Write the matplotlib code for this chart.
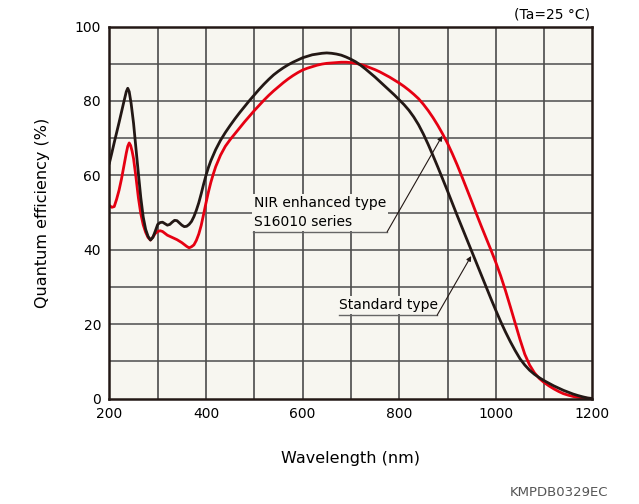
import matplotlib
matplotlib.use("Agg")
import matplotlib.pyplot as plt

# Standard type (black curve)
std_nm = [200, 205, 210, 215, 220, 225, 230, 235, 238, 241, 245, 250, 255,
          260, 265, 270, 275, 280, 285, 290, 295, 300, 305, 310, 315, 320,
          325, 330, 335, 340, 345, 350, 355, 360, 365, 370, 375, 380, 385,
          390, 395, 400, 405, 410, 420, 430, 440, 450, 460, 470, 480, 490,
          500, 510, 520, 530, 540, 550, 560, 570, 580, 590, 600, 610, 620,
          630, 640, 650, 660, 670, 680, 690, 700, 710, 720, 730, 740, 750,
          760, 770, 780, 790, 800, 810, 820, 830, 840, 850, 860, 870, 880,
          890, 900, 910, 920, 930, 940, 950, 960, 970, 980, 990, 1000, 1010,
          1020, 1030, 1040, 1050, 1060, 1070, 1080, 1090, 1100, 1110, 1120,
          1130, 1140, 1150, 1160, 1170, 1180, 1190, 1200]
std_qe = [63.3, 66.0, 68.8, 71.5, 74.2, 77.0, 79.8, 82.5, 83.4, 82.5, 79.3,
          74.0, 67.2, 60.5, 54.0, 48.8, 45.5, 43.6, 42.6, 43.3, 45.0, 46.8,
          47.3, 47.4, 47.0, 46.6, 46.8, 47.4, 47.9, 47.8, 47.2, 46.6, 46.2,
          46.3, 46.8, 47.6, 48.9, 50.6, 52.6, 55.0, 57.6, 60.0, 62.1, 63.9,
          66.9, 69.4, 71.5, 73.4, 75.2, 76.9, 78.5, 80.1, 81.6, 83.1, 84.5,
          85.8, 87.0, 88.0, 88.9, 89.7, 90.4, 91.0, 91.6, 92.0, 92.4, 92.6,
          92.8, 92.9, 92.8, 92.6, 92.3, 91.8, 91.2, 90.5, 89.6, 88.6, 87.5,
          86.4, 85.2, 84.0, 82.8, 81.6, 80.3, 79.0, 77.5, 75.7, 73.6, 71.1,
          68.3, 65.3, 62.2, 59.0, 55.8, 52.5, 49.2, 46.0, 42.8, 39.6, 36.4,
          33.2, 30.0, 26.8, 23.7, 20.7, 17.9, 15.3, 12.9, 10.7, 9.0, 7.6,
          6.5, 5.6, 4.8, 4.1, 3.4, 2.8, 2.2, 1.7, 1.2, 0.8, 0.45, 0.15, 0.0]

# NIR enhanced type S16010 series (red curve)
nir_nm = [200, 205, 210, 215, 220, 225, 230, 235, 238, 241, 244, 247, 250,
          255, 260, 265, 270, 275, 280, 285, 290, 295, 300, 305, 310, 315,
          320, 325, 330, 335, 340, 345, 350, 355, 360, 365, 370, 375, 380,
          385, 390, 395, 400, 405, 410, 415, 420, 430, 440, 450, 460, 470,
          480, 490, 500, 510, 520, 530, 540, 550, 560, 570, 580, 590, 600,
          610, 620, 630, 640, 650, 660, 670, 680, 690, 700, 710, 720, 730,
          740, 750, 760, 770, 780, 790, 800, 810, 820, 830, 840, 850, 860,
          870, 880, 890, 900, 910, 920, 930, 940, 950, 960, 970, 980, 990,
          1000, 1010, 1020, 1030, 1040, 1050, 1060, 1070, 1080, 1090, 1100,
          1110, 1120, 1130, 1140, 1150, 1160, 1170, 1180, 1190, 1200]
nir_qe = [51.9, 51.4, 51.6, 53.6, 56.0, 59.0, 62.5, 66.0, 67.8, 68.7, 68.0,
          66.5, 64.5, 59.5, 54.0, 49.7, 46.7, 44.7, 43.3, 42.6, 43.4, 44.4,
          44.9, 45.1, 44.9, 44.4, 43.9, 43.6, 43.3, 43.0, 42.7, 42.3, 41.9,
          41.4, 40.9, 40.5, 40.8, 41.3, 42.5, 44.2, 46.5, 49.5, 52.6, 55.5,
          58.1, 60.3, 62.3, 65.4, 67.8, 69.6, 71.2, 72.8, 74.4, 75.9, 77.4,
          78.8, 80.2, 81.5, 82.7, 83.8, 84.9, 85.9, 86.8, 87.6, 88.3, 88.8,
          89.2, 89.6, 89.9, 90.1, 90.2, 90.3, 90.4, 90.4, 90.3, 90.1, 89.8,
          89.4, 88.9, 88.4, 87.8, 87.1, 86.4, 85.6, 84.8, 83.9, 82.9, 81.8,
          80.6, 79.1, 77.4, 75.5, 73.4, 71.1, 68.6, 65.8, 62.8, 59.6, 56.3,
          53.0, 49.6, 46.3, 43.1, 39.9, 36.6, 33.0, 29.0, 24.7, 20.3, 15.9,
          11.9, 9.0, 6.9, 5.4, 4.3, 3.4, 2.6, 1.9, 1.3, 0.9, 0.55, 0.3, 0.15,
          0.05, 0.0]

x_ticks = [200, 400, 600, 800, 1000, 1200]
y_ticks = [0, 20, 40, 60, 80, 100]

bg = '#f7f6f0'
red = '#e60012'
black = '#231815'

plt.rcParams['font.family'] = ['DejaVu Sans']

fig = plt.figure(figsize=(6.39, 5.04), dpi=100)
ax = fig.add_axes([0.1712, 0.2093, 0.7559, 0.7381])
ax.set_facecolor(bg)

# grid lines every 100 nm / 10 %
for xv in range(300, 1200, 100):
    ax.axvline(xv, color='#3c3c3c', lw=1.1, zorder=1)
for yv in range(10, 100, 10):
    ax.axhline(yv, color='#4d4d4d', lw=1.1, zorder=1)

ax.plot(nir_nm, nir_qe, color=red, lw=2.0, zorder=3, solid_joinstyle='round')
ax.plot(std_nm, std_qe, color=black, lw=2.0, zorder=4, solid_joinstyle='round')

ax.set_xlim(200, 1200)
ax.set_ylim(0, 100)
ax.set_xticks(x_ticks)
ax.set_yticks(y_ticks)
ax.tick_params(length=0, labelsize=10, pad=6)
for s in ax.spines.values():
    s.set_linewidth(1.8)
    s.set_color(black)
    s.set_zorder(5)

ax.set_xlabel('Wavelength (nm)', fontsize=11.5, labelpad=22)
ax.set_ylabel('Quantum efficiency (%)', fontsize=11.5, labelpad=18)

# labels with leader lines
ax.text(499, 45.6, 'NIR enhanced type\nS16010 series', fontsize=10,
        ha='left', va='bottom', linespacing=1.4, zorder=2,
        bbox=dict(facecolor=bg, edgecolor='none', pad=1.5))
ax.plot([497.5, 775], [44.8, 44.8], color='#666666', lw=1.0, zorder=2)
ax.annotate('', xy=(889, 70.6), xytext=(775, 44.8),
            arrowprops=dict(arrowstyle='-|>', color=black, lw=0.8,
                            mutation_scale=7, shrinkA=0, shrinkB=0), zorder=6)

ax.text(676, 23.3, 'Standard type', fontsize=10, ha='left', va='bottom',
        zorder=2, bbox=dict(facecolor=bg, edgecolor='none', pad=1.5))
ax.plot([674.7, 878.5], [22.4, 22.4], color='#666666', lw=1.0, zorder=2)
ax.annotate('', xy=(949, 38.3), xytext=(878.5, 22.4),
            arrowprops=dict(arrowstyle='-|>', color=black, lw=0.8,
                            mutation_scale=7, shrinkA=0, shrinkB=0), zorder=6)

fig.text(590 / 639, 1 - 14 / 504, '(Ta=25 °C)', fontsize=10,
         ha='right', va='center')
fig.text(608 / 639, 1 - 492 / 504, 'KMPDB0329EC', fontsize=9.5,
         ha='right', va='center', color='#555555')

fig.savefig('out.png', dpi=100, facecolor='white')
